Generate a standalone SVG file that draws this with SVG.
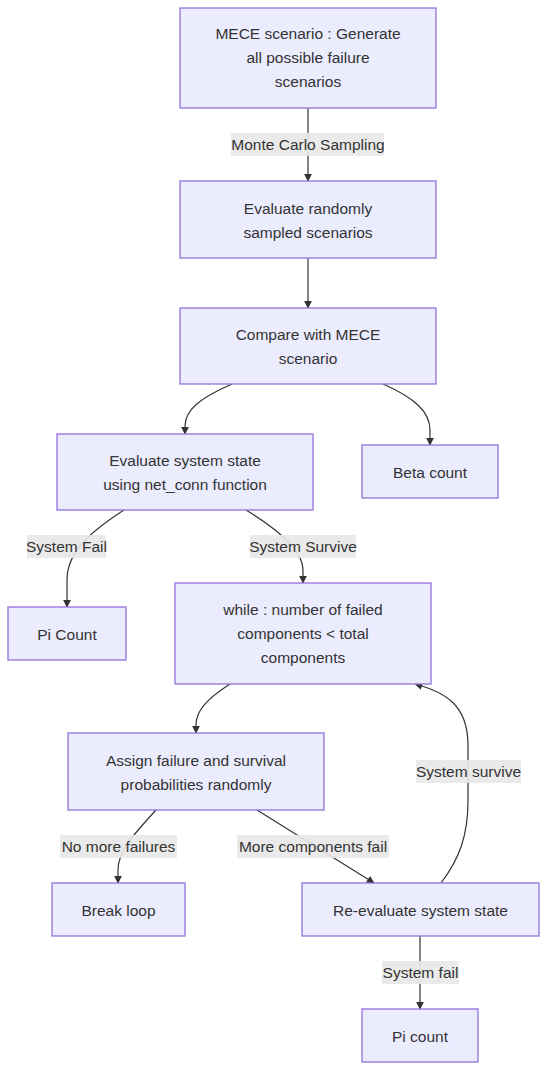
<svg xmlns="http://www.w3.org/2000/svg" width="555" height="1086" viewBox="0 0 555 1086">
<defs>
<marker id="arr" viewBox="0 0 10 10" refX="9" refY="5" markerWidth="8" markerHeight="8" markerUnits="userSpaceOnUse" orient="auto">
<path d="M0,0 L10,5 L0,10 z" fill="#333"/>
</marker>
<style>
.node rect{fill:#ECECFF;stroke:#9370DB;stroke-width:1.3}
text{font-family:"Liberation Sans",Arial,sans-serif;font-size:15.5px;fill:#333;text-anchor:middle;dominant-baseline:central}
.edge{fill:none;stroke:#333;stroke-width:1.2;marker-end:url(#arr)}
.lbl rect{fill:#e8e8e8;opacity:0.9}
</style>
</defs>
<rect width="555" height="1086" fill="#fff"/>
<g id="connectors">
<path class="edge" d="M308,108 L308,181"/>
<path class="edge" d="M308,258 L308,308"/>
<path class="edge" d="M232,384 C200,398 185,410 185,426 L185,434"/>
<path class="edge" d="M383,384 C415,398 430,412 430,430 L430,445"/>
<path class="edge" d="M124,510 C90,532 67,552 67,580 L67,607"/>
<path class="edge" d="M246,510 C282,532 303,552 303,570 L303,583"/>
<path class="edge" d="M230,684 C205,700 196,712 196,725 L196,733"/>
<path class="edge" d="M156,810 C132,836 118,852 118,870 L118,883"/>
<path class="edge" d="M257,810 L374,883"/>
<path class="edge" d="M441,883 C460,858 468,835 468,800 L468,745 C468,705 445,692 415,684"/>
<path class="edge" d="M420,936 L420,1009"/>
</g>
<g id="edge-labels">
<g class="lbl"><rect x="231" y="133" width="153" height="23"/><text x="308" y="144.5">Monte Carlo Sampling</text></g>
<g class="lbl"><rect x="27" y="535" width="79" height="23"/><text x="66.5" y="546.5">System Fail</text></g>
<g class="lbl"><rect x="250" y="535" width="106" height="23"/><text x="303" y="546.5">System Survive</text></g>
<g class="lbl"><rect x="416" y="760" width="105" height="23"/><text x="468.5" y="771.5">System survive</text></g>
<g class="lbl"><rect x="60" y="835" width="117" height="23"/><text x="118.5" y="846.5">No more failures</text></g>
<g class="lbl"><rect x="237" y="835" width="152" height="23"/><text x="313" y="846.5">More components fail</text></g>
<g class="lbl"><rect x="382" y="961" width="77" height="23"/><text x="420.5" y="972.5">System fail</text></g>
</g>
<g id="n-mece" class="node"><rect x="180" y="8" width="256" height="100"/><text x="308" y="33.5">MECE scenario : Generate</text><text x="308" y="57.5">all possible failure</text><text x="308" y="81.5">scenarios</text></g>
<g id="n-evalrand" class="node"><rect x="180" y="181" width="256" height="77"/><text x="308" y="208">Evaluate randomly</text><text x="308" y="232">sampled scenarios</text></g>
<g id="n-compare" class="node"><rect x="180" y="308" width="256" height="76"/><text x="308" y="334">Compare with MECE</text><text x="308" y="358">scenario</text></g>
<g id="n-evalsys" class="node"><rect x="57" y="434" width="256" height="76"/><text x="185" y="460">Evaluate system state</text><text x="185" y="484">using net_conn function</text></g>
<g id="n-beta" class="node"><rect x="362" y="445" width="136" height="53"/><text x="430" y="472">Beta count</text></g>
<g id="n-pi1" class="node"><rect x="8" y="607" width="118" height="53"/><text x="67" y="634">Pi Count</text></g>
<g id="n-while" class="node"><rect x="175" y="583" width="256" height="101"/><text x="303" y="609.5">while : number of failed</text><text x="303" y="633.5">components &lt; total</text><text x="303" y="657.5">components</text></g>
<g id="n-assign" class="node"><rect x="68" y="733" width="256" height="77"/><text x="196" y="760">Assign failure and survival</text><text x="196" y="784">probabilities randomly</text></g>
<g id="n-break" class="node"><rect x="52" y="883" width="133" height="53"/><text x="118.5" y="910">Break loop</text></g>
<g id="n-reeval" class="node"><rect x="302" y="883" width="237" height="53"/><text x="420.5" y="910">Re-evaluate system state</text></g>
<g id="n-pi2" class="node"><rect x="362" y="1009" width="116" height="53"/><text x="420" y="1036">Pi count</text></g>
</svg>
